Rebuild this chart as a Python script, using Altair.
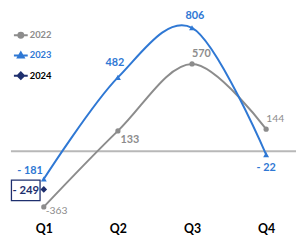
import json
import altair as alt
import pandas as pd

# ---------------- data ----------------
quarters = [1, 2, 3, 4]
q_labels = ["Q1", "Q2", "Q3", "Q4"]
years = ["2022", "2023", "2024"]

v2022 = [-363, 133, 570, 144]
v2023 = [-181, 482, 806, -22]
v2024 = [-249]

t2022 = ["-363", "133", "570", "144"]
t2023 = ["- 181", "482", "806", "- 22"]
t2024 = ["- 249"]

rows = []
for yr, vals, txts in [("2022", v2022, t2022), ("2023", v2023, t2023), ("2024", v2024, t2024)]:
    for q, v, t in zip(quarters, vals, txts):
        rows.append({"q": q, "value": v, "year": yr, "txt": t})
df = pd.DataFrame(rows)

# ---------------- style ----------------
GRAY = "#8c8c8c"
BLUE = "#2f78d4"
NAVY = "#1e2f6e"
FONT = "Lato"
colors = [GRAY, BLUE, NAVY]

xscale = alt.Scale(domain=[0.557, 4.403], nice=False, zero=False)
yscale = alt.Scale(domain=[-427, 925], nice=False, zero=False)
label_expr = json.dumps(q_labels) + "[datum.value - 1]"
X = alt.X("q:Q", scale=xscale,
          axis=alt.Axis(values=quarters, labelExpr=label_expr, title=None, grid=False,
                        domain=False, ticks=False, labelPadding=6, labelFont=FONT,
                        labelFontSize=12.5, labelFontWeight="bold", labelColor="#000000"))
Y = alt.Y("value:Q", scale=yscale, axis=None)
cscale = alt.Scale(domain=years, range=colors)

base = alt.Chart(df)

zero = alt.Chart(pd.DataFrame({"z": [0]})).mark_rule(color="#b8b8b8", strokeWidth=2).encode(
    y=alt.Y("z:Q", scale=yscale, axis=None))

lines = base.mark_line(interpolate="cardinal", strokeWidth=2).encode(
    x=X, y=Y, color=alt.Color("year:N", scale=cscale, legend=None), detail="year:N")

pts22 = base.transform_filter("datum.year == '2022'").mark_point(
    shape="circle", filled=True, size=28, color=GRAY, opacity=1).encode(x=X, y=Y)
pts23 = base.transform_filter("datum.year == '2023'").mark_point(
    shape="triangle-up", filled=True, size=36, color=BLUE, opacity=1).encode(x=X, y=Y)
pts24 = base.transform_filter("datum.year == '2024'").mark_point(
    shape="diamond", filled=True, size=45, color=NAVY, opacity=1).encode(x=X, y=Y)

# legend carried by an empty layer (explicit domains keep all entries)
leg_shapes = [
    "M-1,0H1M-0.36,0A0.36,0.36,0,1,1,0.36,0A0.36,0.36,0,1,1,-0.36,0Z",
    "M-1,0H1M0,-0.42L0.42,0.3L-0.42,0.3Z",
    "M-1,0H1M0,-0.46L0.46,0L0,0.46L-0.46,0Z",
]
legend = alt.Legend(
    orient="none", legendX=2, legendY=18, title=None, symbolSize=196,
    symbolStrokeWidth=2, symbolOpacity=1, labelFont=FONT, labelFontSize=9.5,
    labelFontWeight="bold", rowPadding=5.5, labelOffset=1, padding=0,
    labelColor=alt.ExprRef("datum.value == '2022' ? '%s' : datum.value == '2023' ? '%s' : '#000000'" % (GRAY, BLUE)),
)
leg = base.transform_filter("false").mark_point(filled=True, strokeWidth=2, opacity=1).encode(
    x=X, y=Y,
    fill=alt.Fill("year:N", scale=alt.Scale(domain=years, range=colors), legend=legend),
    stroke=alt.Stroke("year:N", scale=alt.Scale(domain=years, range=colors), legend=legend),
    shape=alt.Shape("year:N", scale=alt.Scale(domain=years, range=leg_shapes), legend=legend),
)


def lab(year, q, dx, dy, align, color, weight="bold", size=11):
    return base.transform_filter(
        "datum.year == '%s' && datum.q == %d" % (year, q)
    ).mark_text(dx=dx, dy=dy, align=align, baseline="middle", font=FONT,
                fontSize=size, fontWeight=weight, color=color).encode(x=X, y=Y, text="txt:N")


labels = [
    lab("2022", 1, 2, 4, "left", GRAY, "normal", 10.5),
    lab("2022", 2, 2.5, 9, "left", GRAY),
    lab("2022", 3, 0, -10, "left", GRAY),
    lab("2022", 4, 0, -10.5, "left", GRAY, "normal", 10.5),
    lab("2023", 1, -1, -8, "right", BLUE),
    lab("2023", 2, -3, -14.5, "center", BLUE),
    lab("2023", 3, 3, -12, "center", BLUE),
    lab("2023", 4, 0, 14, "center", BLUE),
]

box_path = "M-1,-0.72H1V0.72H-1Z"
box = base.transform_filter("datum.year == '2024'").mark_point(
    shape=box_path, filled=False, size=841, color=NAVY, strokeWidth=1.3, opacity=1,
    xOffset=-18.3, yOffset=1).encode(x=X, y=Y)
box_txt = lab("2024", 1, -18.3, 1.5, "center", NAVY, "bold", 11.5)

chart = alt.layer(zero, lines, pts22, pts23, pts24, leg, *labels, box, box_txt).resolve_scale(
    color="independent"
).properties(width=289, height=210, padding=0).configure_view(stroke=None)

chart.save("out.html", embed_options={"renderer": "svg", "actions": False})
